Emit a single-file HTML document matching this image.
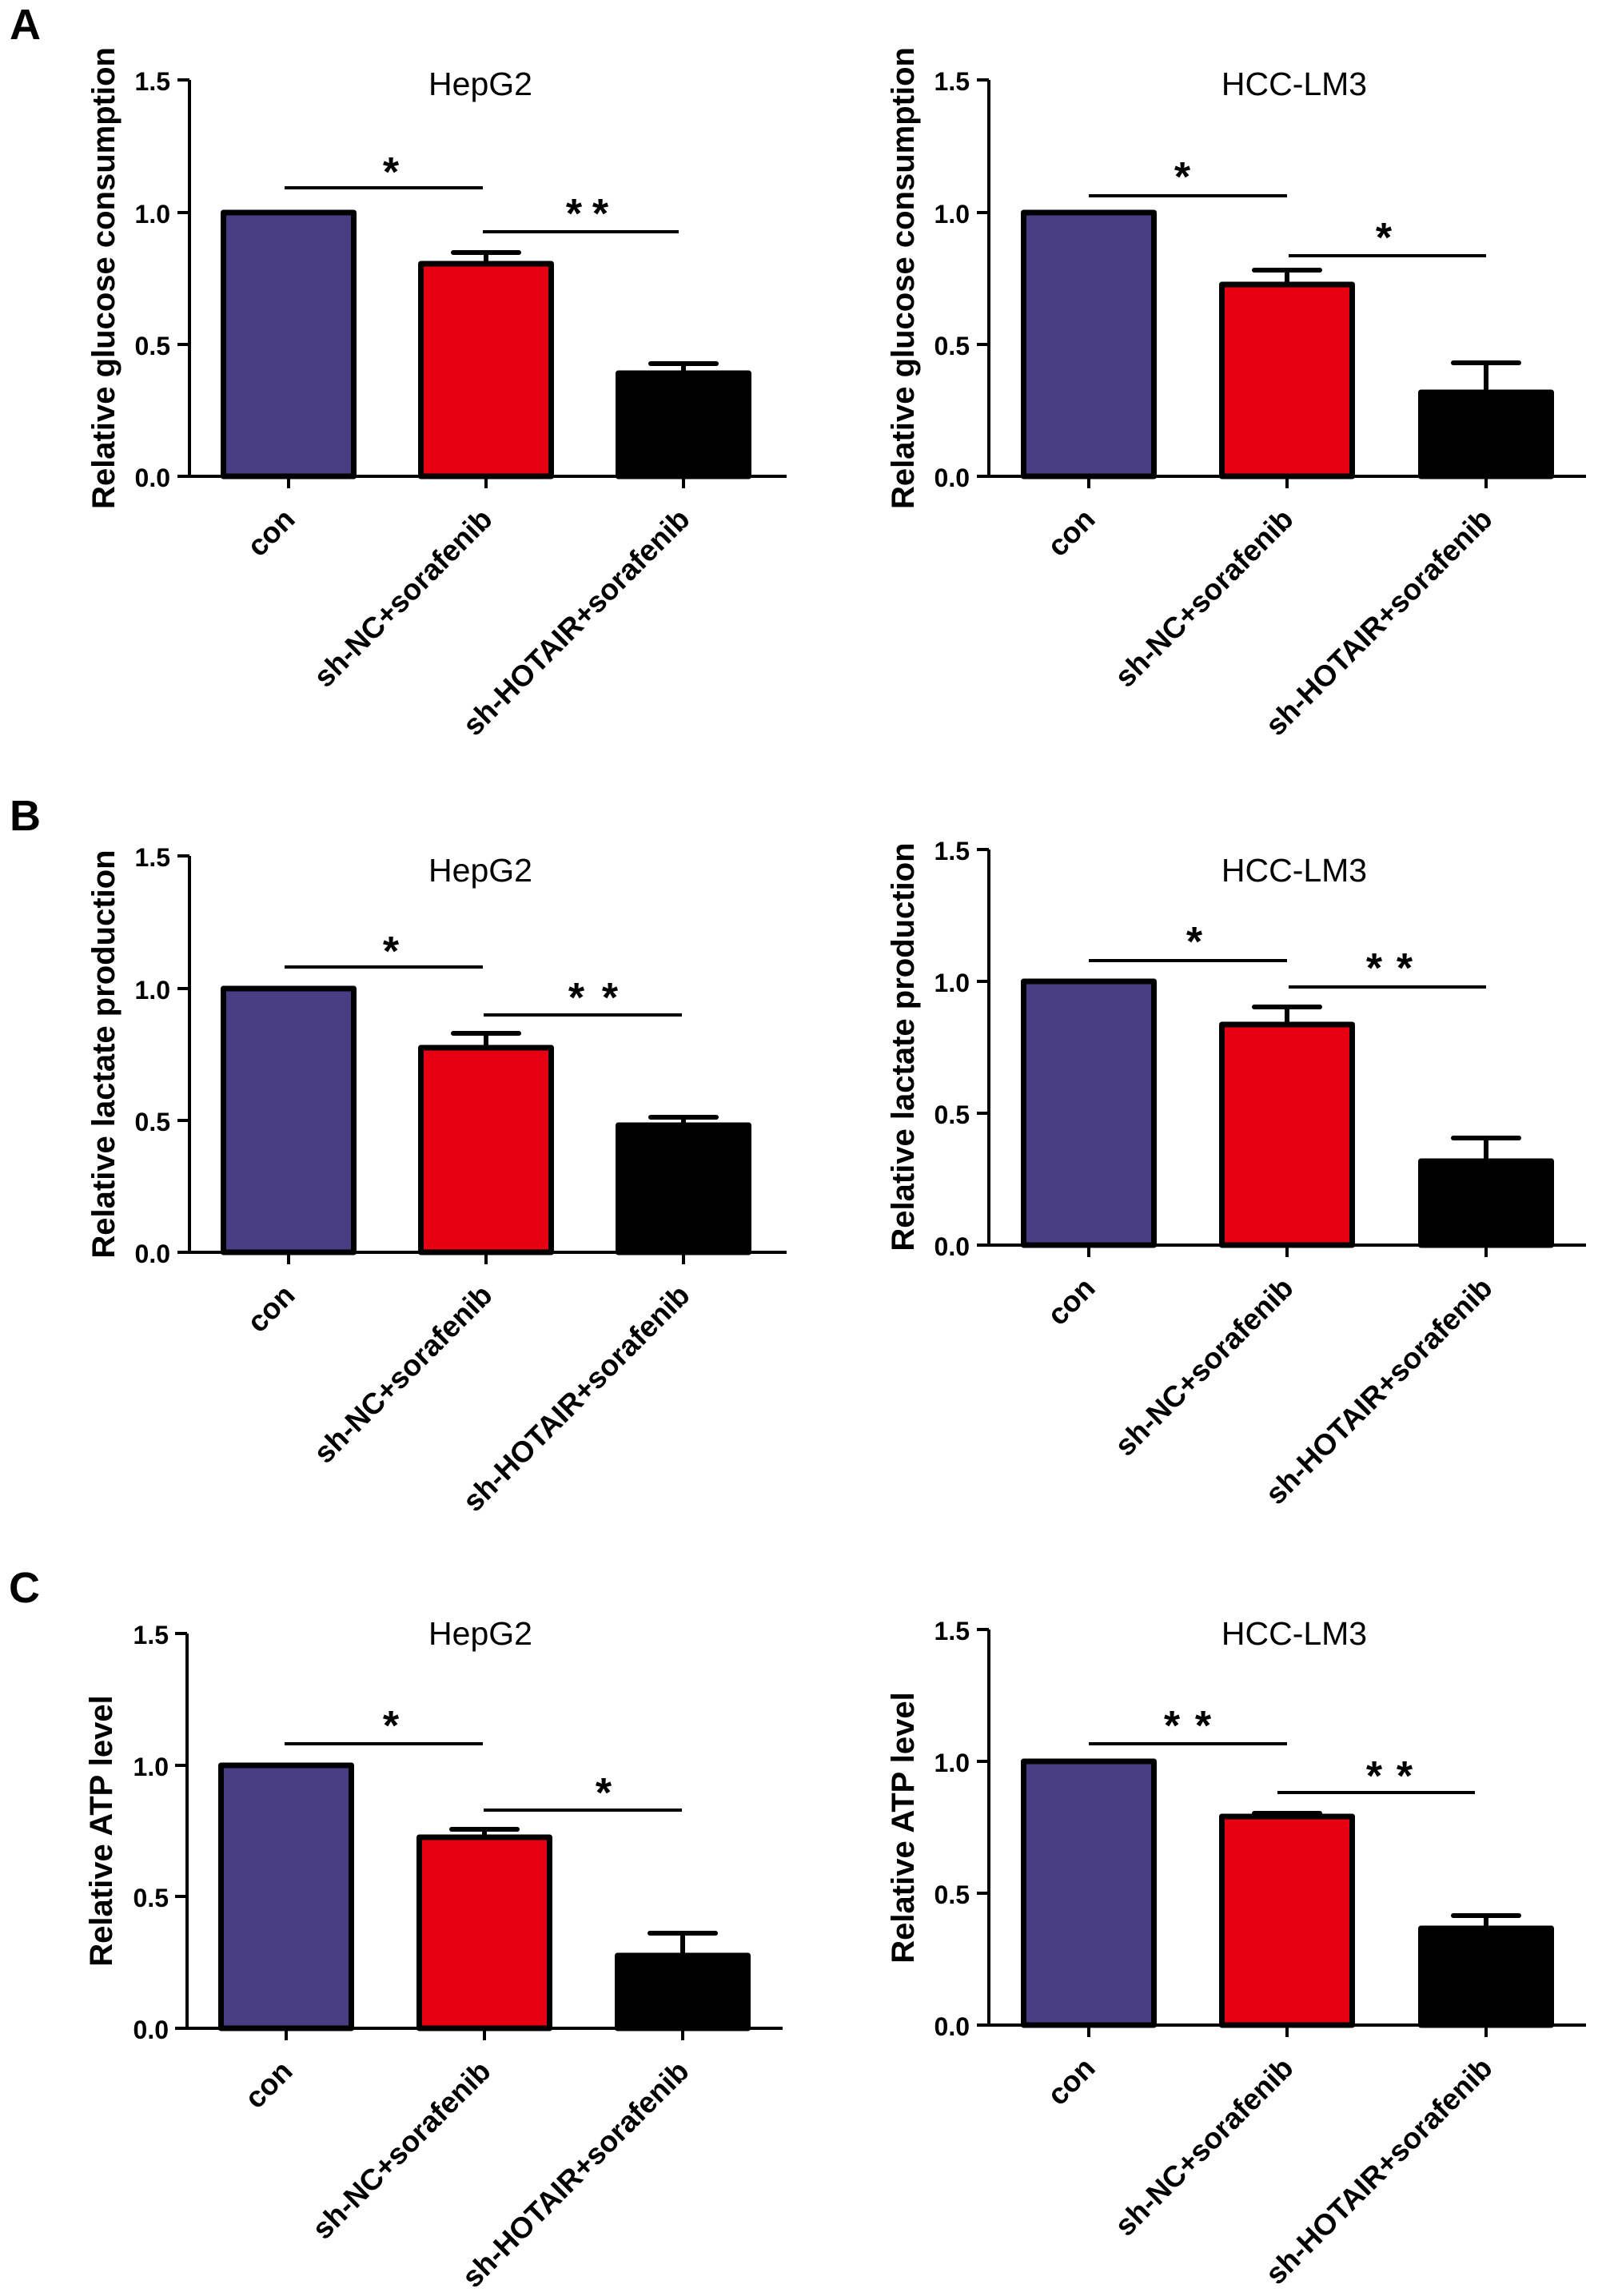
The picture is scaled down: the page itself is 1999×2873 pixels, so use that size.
<!DOCTYPE html>
<html>
<head>
<meta charset="utf-8">
<style>
html,body{margin:0;padding:0;background:#fff;}
svg{display:block;}
text{font-family:"Liberation Sans",Arial,sans-serif;fill:#000;}
.tl{font-size:32px;font-weight:bold;text-anchor:end;}
.yl{font-size:40px;font-weight:bold;text-anchor:middle;}
.cl{font-size:37px;font-weight:bold;text-anchor:end;}
.ti{font-size:41px;text-anchor:middle;}
.st{font-size:52px;font-weight:bold;text-anchor:middle;}
.pl{font-size:54px;font-weight:bold;}
.ax{stroke:#000;stroke-width:4;fill:none;}
.bar{stroke:#000;stroke-width:7;stroke-linejoin:round;}
.eb{stroke:#000;stroke-width:6;}
.cap{stroke:#000;stroke-width:6;stroke-linecap:round;}
.sig{stroke:#000;stroke-width:4;}
</style>
</head>
<body>
<svg width="1999" height="2873" viewBox="0 0 1999 2873" xmlns="http://www.w3.org/2000/svg">
<rect x="0" y="0" width="1999" height="2873" fill="#fff"/>

<!-- Panel letters -->
<text class="pl" x="12" y="49">A</text>
<text class="pl" x="12" y="1039">B</text>
<text class="pl" x="11" y="2005">C</text>

<!-- ================= A LEFT ================= -->
<g>
<rect class="bar" x="279.5" y="266" width="163" height="330" fill="#483d82"/>
<rect class="bar" x="526.5" y="330" width="163" height="266" fill="#e60012"/>
<rect class="bar" x="773.5" y="467" width="163" height="129" fill="#000"/>
<line class="eb" x1="608" y1="330" x2="608" y2="316"/>
<line class="cap" x1="567" y1="316" x2="649" y2="316"/>
<line class="eb" x1="855" y1="467" x2="855" y2="455"/>
<line class="cap" x1="814" y1="455" x2="896" y2="455"/>
<path class="ax" d="M237 100 V596 M222 596 H984 M222 100 H237 M222 266 H237 M222 431 H237 M361 596 V611 M608 596 V611 M855 596 V611"/>
<text class="tl" x="213" y="113">1.5</text>
<text class="tl" x="213" y="279">1.0</text>
<text class="tl" x="213" y="444">0.5</text>
<text class="tl" x="213" y="609">0.0</text>
<text class="yl" x="143" y="348" transform="rotate(-90 143 348)">Relative glucose consumption</text>
<text class="ti" x="601" y="119">HepG2</text>
<line class="sig" x1="356" y1="235" x2="604" y2="235"/>
<text class="st" x="489" y="233">*</text>
<line class="sig" x1="604" y1="290" x2="849" y2="290"/>
<text class="st" x="718" y="285">*</text>
<text class="st" x="751" y="285">*</text>
<text class="cl" x="371" y="652" transform="rotate(-45 371 652)">con</text>
<text class="cl" x="618" y="652" transform="rotate(-45 618 652)">sh-NC+sorafenib</text>
<text class="cl" x="865" y="652" transform="rotate(-45 865 652)">sh-HOTAIR+sorafenib</text>
</g>

<!-- ================= A RIGHT ================= -->
<g>
<rect class="bar" x="1280.5" y="266" width="163" height="330" fill="#483d82"/>
<rect class="bar" x="1528.5" y="356" width="163" height="240" fill="#e60012"/>
<rect class="bar" x="1777.5" y="491" width="163" height="105" fill="#000"/>
<line class="eb" x1="1610" y1="356" x2="1610" y2="338"/>
<line class="cap" x1="1569" y1="338" x2="1651" y2="338"/>
<line class="eb" x1="1859" y1="491" x2="1859" y2="454"/>
<line class="cap" x1="1818" y1="454" x2="1900" y2="454"/>
<path class="ax" d="M1237 100 V596 M1222 596 H1984 M1222 100 H1237 M1222 266 H1237 M1222 431 H1237 M1362 596 V611 M1610 596 V611 M1859 596 V611"/>
<text class="tl" x="1213" y="113">1.5</text>
<text class="tl" x="1213" y="279">1.0</text>
<text class="tl" x="1213" y="444">0.5</text>
<text class="tl" x="1213" y="609">0.0</text>
<text class="yl" x="1143" y="348" transform="rotate(-90 1143 348)">Relative glucose consumption</text>
<text class="ti" x="1619" y="119">HCC-LM3</text>
<line class="sig" x1="1362" y1="245" x2="1610" y2="245"/>
<text class="st" x="1479" y="239">*</text>
<line class="sig" x1="1612" y1="320" x2="1859" y2="320"/>
<text class="st" x="1731" y="315">*</text>
<text class="cl" x="1372" y="652" transform="rotate(-45 1372 652)">con</text>
<text class="cl" x="1620" y="652" transform="rotate(-45 1620 652)">sh-NC+sorafenib</text>
<text class="cl" x="1869" y="652" transform="rotate(-45 1869 652)">sh-HOTAIR+sorafenib</text>
</g>

<!-- ================= B LEFT ================= -->
<g>
<rect class="bar" x="279.5" y="1237" width="163" height="330" fill="#483d82"/>
<rect class="bar" x="526.5" y="1311" width="163" height="256" fill="#e60012"/>
<rect class="bar" x="773.5" y="1408" width="163" height="159" fill="#000"/>
<line class="eb" x1="608" y1="1311" x2="608" y2="1293"/>
<line class="cap" x1="567" y1="1293" x2="649" y2="1293"/>
<line class="eb" x1="855" y1="1408" x2="855" y2="1398"/>
<line class="cap" x1="814" y1="1398" x2="896" y2="1398"/>
<path class="ax" d="M237 1071 V1567 M222 1567 H984 M222 1071 H237 M222 1237 H237 M222 1402 H237 M361 1567 V1582 M608 1567 V1582 M855 1567 V1582"/>
<text class="tl" x="213" y="1084">1.5</text>
<text class="tl" x="213" y="1250">1.0</text>
<text class="tl" x="213" y="1415">0.5</text>
<text class="tl" x="213" y="1580">0.0</text>
<text class="yl" x="143" y="1319" transform="rotate(-90 143 1319)">Relative lactate production</text>
<text class="ti" x="601" y="1103">HepG2</text>
<line class="sig" x1="356" y1="1210" x2="604" y2="1210"/>
<text class="st" x="489" y="1208">*</text>
<line class="sig" x1="605" y1="1270" x2="853" y2="1270"/>
<text class="st" x="721" y="1266">*</text>
<text class="st" x="763" y="1266">*</text>
<text class="cl" x="371" y="1623" transform="rotate(-45 371 1623)">con</text>
<text class="cl" x="618" y="1623" transform="rotate(-45 618 1623)">sh-NC+sorafenib</text>
<text class="cl" x="865" y="1623" transform="rotate(-45 865 1623)">sh-HOTAIR+sorafenib</text>
</g>

<!-- ================= B RIGHT ================= -->
<g>
<rect class="bar" x="1280.5" y="1228" width="163" height="330" fill="#483d82"/>
<rect class="bar" x="1528.5" y="1282" width="163" height="276" fill="#e60012"/>
<rect class="bar" x="1777.5" y="1453" width="163" height="105" fill="#000"/>
<line class="eb" x1="1610" y1="1282" x2="1610" y2="1260"/>
<line class="cap" x1="1569" y1="1260" x2="1651" y2="1260"/>
<line class="eb" x1="1859" y1="1453" x2="1859" y2="1424"/>
<line class="cap" x1="1818" y1="1424" x2="1900" y2="1424"/>
<path class="ax" d="M1237 1063 V1558 M1222 1558 H1984 M1222 1063 H1237 M1222 1228 H1237 M1222 1393 H1237 M1362 1558 V1573 M1610 1558 V1573 M1859 1558 V1573"/>
<text class="tl" x="1213" y="1076">1.5</text>
<text class="tl" x="1213" y="1241">1.0</text>
<text class="tl" x="1213" y="1406">0.5</text>
<text class="tl" x="1213" y="1571">0.0</text>
<text class="yl" x="1143" y="1310" transform="rotate(-90 1143 1310)">Relative lactate production</text>
<text class="ti" x="1619" y="1103">HCC-LM3</text>
<line class="sig" x1="1362" y1="1202" x2="1610" y2="1202"/>
<text class="st" x="1494" y="1196">*</text>
<line class="sig" x1="1612" y1="1235" x2="1859" y2="1235"/>
<text class="st" x="1719" y="1229">*</text>
<text class="st" x="1757" y="1229">*</text>
<text class="cl" x="1372" y="1614" transform="rotate(-45 1372 1614)">con</text>
<text class="cl" x="1620" y="1614" transform="rotate(-45 1620 1614)">sh-NC+sorafenib</text>
<text class="cl" x="1869" y="1614" transform="rotate(-45 1869 1614)">sh-HOTAIR+sorafenib</text>
</g>

<!-- ================= C LEFT ================= -->
<g>
<rect class="bar" x="276.5" y="2209" width="163" height="329" fill="#483d82"/>
<rect class="bar" x="524.5" y="2299" width="163" height="239" fill="#e60012"/>
<rect class="bar" x="772.5" y="2447" width="163" height="91" fill="#000"/>
<line class="eb" x1="606" y1="2299" x2="606" y2="2289"/>
<line class="cap" x1="565" y1="2289" x2="647" y2="2289"/>
<line class="eb" x1="854" y1="2447" x2="854" y2="2419"/>
<line class="cap" x1="813" y1="2419" x2="895" y2="2419"/>
<path class="ax" d="M234 2044 V2538 M219 2538 H979 M219 2044 H234 M219 2209 H234 M219 2373 H234 M358 2538 V2553 M606 2538 V2553 M854 2538 V2553"/>
<text class="tl" x="211" y="2057">1.5</text>
<text class="tl" x="211" y="2222">1.0</text>
<text class="tl" x="211" y="2386">0.5</text>
<text class="tl" x="211" y="2551">0.0</text>
<text class="yl" x="140" y="2291" transform="rotate(-90 140 2291)">Relative ATP level</text>
<text class="ti" x="601" y="2058">HepG2</text>
<line class="sig" x1="356" y1="2182" x2="604" y2="2182"/>
<text class="st" x="489" y="2177">*</text>
<line class="sig" x1="605" y1="2265" x2="853" y2="2265"/>
<text class="st" x="755" y="2261">*</text>
<text class="cl" x="368" y="2594" transform="rotate(-45 368 2594)">con</text>
<text class="cl" x="616" y="2594" transform="rotate(-45 616 2594)">sh-NC+sorafenib</text>
<text class="cl" x="864" y="2594" transform="rotate(-45 864 2594)">sh-HOTAIR+sorafenib</text>
</g>

<!-- ================= C RIGHT ================= -->
<g>
<rect class="bar" x="1280.5" y="2204" width="163" height="330" fill="#483d82"/>
<rect class="bar" x="1528.5" y="2273" width="163" height="261" fill="#e60012"/>
<rect class="bar" x="1777.5" y="2413" width="163" height="121" fill="#000"/>
<line class="eb" x1="1610" y1="2273" x2="1610" y2="2269"/>
<line class="cap" x1="1569" y1="2269" x2="1651" y2="2269"/>
<line class="eb" x1="1859" y1="2413" x2="1859" y2="2397"/>
<line class="cap" x1="1818" y1="2397" x2="1900" y2="2397"/>
<path class="ax" d="M1237 2039 V2534 M1222 2534 H1984 M1222 2039 H1237 M1222 2204 H1237 M1222 2369 H1237 M1362 2534 V2549 M1610 2534 V2549 M1859 2534 V2549"/>
<text class="tl" x="1213" y="2052">1.5</text>
<text class="tl" x="1213" y="2217">1.0</text>
<text class="tl" x="1213" y="2382">0.5</text>
<text class="tl" x="1213" y="2547">0.0</text>
<text class="yl" x="1143" y="2287" transform="rotate(-90 1143 2287)">Relative ATP level</text>
<text class="ti" x="1619" y="2058">HCC-LM3</text>
<line class="sig" x1="1362" y1="2182" x2="1610" y2="2182"/>
<text class="st" x="1466" y="2177">*</text>
<text class="st" x="1505" y="2177">*</text>
<line class="sig" x1="1598" y1="2243" x2="1845" y2="2243"/>
<text class="st" x="1719" y="2240">*</text>
<text class="st" x="1757" y="2240">*</text>
<text class="cl" x="1372" y="2590" transform="rotate(-45 1372 2590)">con</text>
<text class="cl" x="1620" y="2590" transform="rotate(-45 1620 2590)">sh-NC+sorafenib</text>
<text class="cl" x="1869" y="2590" transform="rotate(-45 1869 2590)">sh-HOTAIR+sorafenib</text>
</g>
</svg>
</body>
</html>
